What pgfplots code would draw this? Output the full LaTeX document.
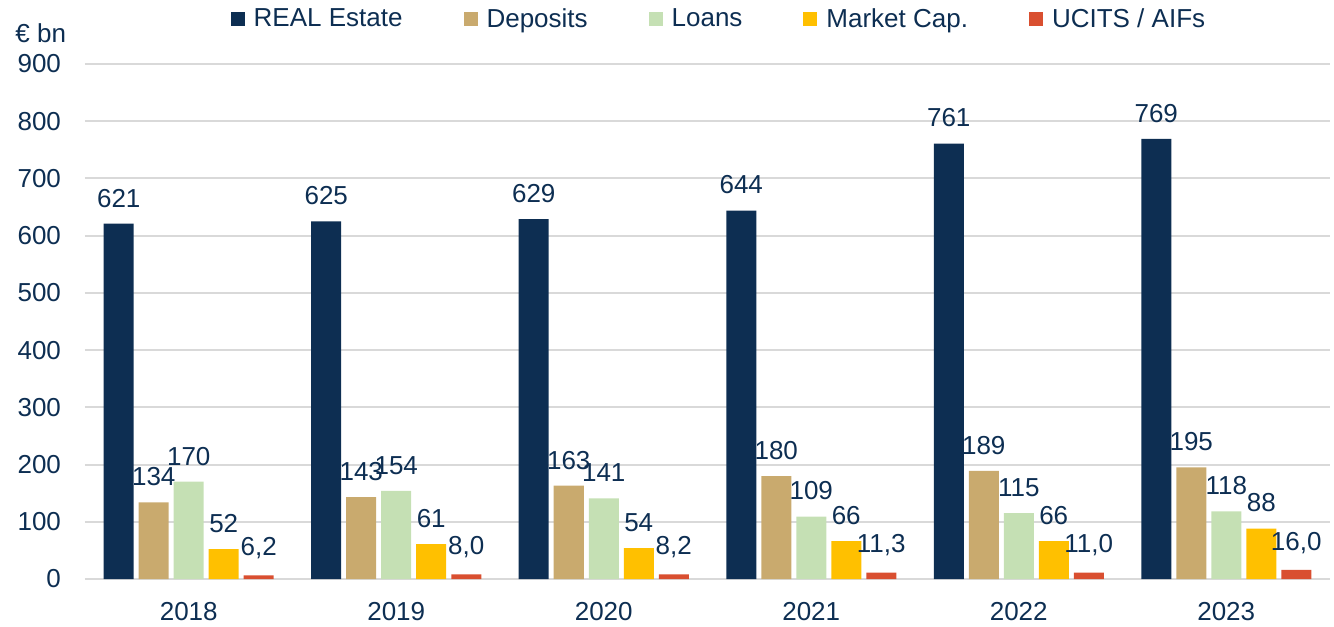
\documentclass[border=0pt]{standalone}
\usepackage{pgfplots}
\pgfplotsset{compat=1.18}
\usepackage{fontspec}
\setmainfont{Liberation Sans}
\definecolor{cNavy}{RGB}{13,46,82}
\definecolor{cTan}{RGB}{201,170,110}
\definecolor{cGreen}{RGB}{197,224,180}
\definecolor{cYellow}{RGB}{255,192,0}
\definecolor{cRed}{RGB}{217,79,48}
\definecolor{cGrid}{RGB}{217,217,217}

\begin{document}
\begin{tikzpicture}
\useasboundingbox (-42.5bp,-24bp) rectangle (624.5bp,289.5bp);
\begin{axis}[
  scale only axis,
  width=622.5bp, height=257.5bp,
  anchor=south west, at={(0,0)},
  clip=false,
  font=\fontsize{13bp}{15bp}\selectfont,
  /pgf/number format/assume math mode=true,
  ybar, bar width=15bp,
  xmin=-0.5, xmax=5.5,
  ymin=0, ymax=900,
  xtick={0,1,2,3,4,5},
  xticklabels={2018,2019,2020,2021,2022,2023},
  ytick={0,100,...,900},
  major tick length=0pt,
  axis line style={draw=none},
  ymajorgrids, grid style={cGrid, line width=1bp},
  tick label style={text=cNavy},
  yticklabel style={xshift=-8.5bp},
  xticklabel style={yshift=-8bp},
  nodes near coords,
  every node near coord/.append style={text=cNavy, anchor=south, inner sep=0pt, yshift=8bp},
  legend columns=5,
  legend style={draw=none, fill=none, text=cNavy, at={(0.51,1.087)}, anchor=center,
    /tikz/every odd column/.append style={column sep=2.5bp},
    /tikz/every even column/.append style={column sep=28.5bp},
    /tikz/column 6/.style={column sep=44bp}},
  legend image code/.code={\fill[#1] (0bp,-3.5bp) rectangle (7bp,3.5bp);},
  /pgf/number format/.cd, fixed, precision=0,
]
\addplot[fill=cNavy, draw=none, bar shift=-35bp] coordinates {(0,621) (1,625) (2,629) (3,644) (4,761) (5,769)};
\addlegendentry{REAL Estate}
\addplot[fill=cTan, draw=none, bar shift=-17.5bp] coordinates {(0,134) (1,143) (2,163) (3,180) (4,189) (5,195)};
\addlegendentry{Deposits}
\addplot[fill=cGreen, draw=none, bar shift=0bp] coordinates {(0,170) (1,154) (2,141) (3,109) (4,115) (5,118)};
\addlegendentry{Loans}
\addplot[fill=cYellow, draw=none, bar shift=17.5bp] coordinates {(0,52) (1,61) (2,54) (3,66) (4,66) (5,88)};
\addlegendentry{Market Cap.}
\addplot[fill=cRed, draw=none, bar shift=35bp,
  nodes near coords style={/pgf/number format/.cd, fixed, fixed zerofill, precision=1, use comma}]
  coordinates {(0,6.2) (1,8.0) (2,8.2) (3,11.3) (4,11.0) (5,16.0)};
\addlegendentry{UCITS / AIFs}
\node[anchor=west, text=cNavy, inner sep=0pt] at ([xshift=-35bp, yshift=15.5bp]rel axis cs:0,1) {€ bn};
\end{axis}
\end{tikzpicture}
\end{document}
